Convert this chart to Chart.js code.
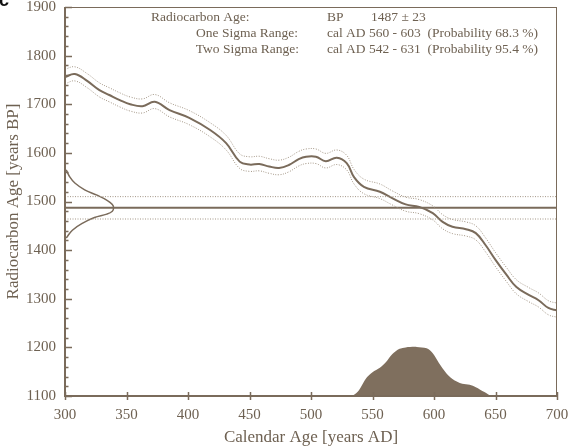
<!DOCTYPE html>
<html>
<head>
<meta charset="utf-8">
<script src="https://cdn.jsdelivr.net/npm/chart.js@4/dist/chart.umd.min.js"></script>
<style>
  html, body { margin: 0; padding: 0; background: #ffffff; }
  #wrap { width: 571px; height: 448px; position: relative; }
</style>
</head>
<body>
<div id="wrap"><canvas id="c" width="571" height="448"></canvas></div>
<script>
// ---- Data ----
const calYears = [300,308,318,328,336,345,353,363,373,385,401,418,431,442,450,458,466,474,482,490,496,504,512,521,529,535,543,556,566,577,588,599,607,615,626,634,642,650,659,667,677,685,693,700];
const calMid   = [1756,1762,1748,1729,1719,1708,1700,1696,1705,1688,1672,1647,1620,1582,1576,1577,1572,1569,1575,1587,1592,1592,1583,1590,1579,1550,1530,1520,1507,1494,1489,1476,1458,1448,1443,1435,1410,1380,1349,1324,1308,1297,1281,1276];
const calUpper = [1772,1777,1763,1744,1734,1723,1715,1711,1720,1703,1687,1662,1636,1598,1592,1593,1588,1585,1591,1603,1608,1608,1599,1606,1595,1566,1546,1536,1522,1509,1504,1491,1473,1463,1458,1450,1425,1395,1364,1339,1323,1312,1296,1291];
const calLower = [1742,1748,1734,1715,1705,1694,1686,1682,1691,1674,1658,1633,1606,1568,1562,1563,1558,1555,1561,1573,1578,1578,1569,1576,1565,1536,1516,1506,1493,1480,1475,1462,1444,1434,1429,1421,1396,1366,1335,1310,1294,1283,1267,1262];

const measuredLevels = [1510, 1487, 1464];   // upper sigma, measured age, lower sigma
const gaussBP   = [1565,1550,1538,1524,1513,1502,1494,1487,1480,1474,1467,1455,1441,1425];
const gaussYear = [301,304,308,316,326,334.5,338.5,339.5,338.5,334,324,314,306,301];

const probYears = [440,460,475,490,530,534,539,545,550,556,561,566,572,577,586,594,599,604,610,615,623,629,634,641,647,700];
const probBP    = [1100,1101.5,1101,1100,1100,1101,1112,1137,1149,1158,1170,1186,1197,1200,1201,1198,1188,1168,1147,1135,1125,1123,1118,1108,1100,1100];

const xTicks = [300,350,400,450,500,550,600,650,700];
const yMajor = [1100,1200,1300,1400,1500,1600,1700,1800,1900];

const infoLabels = ["Radiocarbon Age:", "One Sigma Range:", "Two Sigma Range:"];
const infoValues = ["BP", "cal AD 560 - 603  (Probability 68.3 %)", "cal AD 542 - 631  (Probability 95.4 %)"];
const infoExtra  = "1487 \u00b1 23";

// ---- Styling ----
const INK = '#7a6b5b';
const TXT = '#6e6152';
const DOT = '#a39686';
const FONT = '"Liberation Serif", "Times New Roman", serif';

const pts = (xs, ys) => xs.map((x, i) => ({x: x, y: ys[i]}));

const framePlugin = {
  id: 'frame',
  afterDatasetsDraw(chart) {
    const ctx = chart.ctx;
    const a = chart.chartArea;
    const xs = chart.scales.x, ys = chart.scales.y;
    ctx.save();
    ctx.strokeStyle = INK;
    // frame
    ctx.lineWidth = 1;
    ctx.beginPath();
    ctx.moveTo(a.left, a.top + 0.5); ctx.lineTo(a.right, a.top + 0.5);
    ctx.moveTo(a.right - 0.5, a.top); ctx.lineTo(a.right - 0.5, a.bottom);
    ctx.stroke();
    ctx.lineWidth = 2;
    ctx.beginPath();
    ctx.moveTo(a.left, a.top); ctx.lineTo(a.left, a.bottom + 1);
    ctx.moveTo(a.left - 1, a.bottom); ctx.lineTo(a.right, a.bottom);
    ctx.stroke();
    // y ticks (inward)
    ctx.lineWidth = 1.5;
    ys.ticks.forEach(t => {
      const py = Math.round(ys.getPixelForValue(t.value)) + 0.5;
      const major = yMajor.includes(t.value);
      ctx.beginPath();
      ctx.moveTo(a.left, py); ctx.lineTo(a.left + (major ? 7 : 3.5), py);
      ctx.stroke();
    });
    // x ticks (crossing)
    xs.ticks.forEach(t => {
      const px = Math.round(xs.getPixelForValue(t.value)) + 0.5;
      ctx.beginPath();
      ctx.moveTo(px, a.bottom - 4); ctx.lineTo(px, a.bottom + 4);
      ctx.stroke();
    });
    // info text
    ctx.fillStyle = TXT;
    ctx.font = '13.5px ' + FONT;
    ctx.textBaseline = 'middle';
    const rows = [17, 33, 49];
    ctx.textAlign = 'left';
    ctx.fillText(infoLabels[0], 151, rows[0]);
    ctx.textAlign = 'right';
    ctx.fillText(infoLabels[1], 298, rows[1]);
    ctx.fillText(infoLabels[2], 299, rows[2]);
    ctx.textAlign = 'left';
    ctx.fillText(infoValues[0], 327, rows[0]);
    ctx.fillText(infoExtra, 371, rows[0]);
    ctx.fillText(infoValues[1], 327, rows[1]);
    ctx.fillText(infoValues[2], 327, rows[2]);
    // cropped panel letter
    ctx.fillStyle = '#111';
    ctx.font = 'bold 18px "Liberation Sans", Arial, sans-serif';
    ctx.textBaseline = 'alphabetic';
    ctx.fillText('c', -1, 6);
    ctx.restore();
  }
};

new Chart(document.getElementById('c'), {
  type: 'line',
  data: {
    datasets: [
      { data: pts(probYears, probBP), borderWidth: 0, borderColor: 'rgba(0,0,0,0)', backgroundColor: '#7f6f5e', fill: 'start', pointRadius: 0, tension: 0.3 },
      { data: pts(calYears, calUpper), borderColor: DOT, borderWidth: 1, borderDash: [1, 1.5], pointRadius: 0, tension: 0.4, fill: false },
      { data: pts(calYears, calLower), borderColor: DOT, borderWidth: 1, borderDash: [1, 1.5], pointRadius: 0, tension: 0.4, fill: false },
      { data: [{x: 300, y: measuredLevels[0]}, {x: 700, y: measuredLevels[0]}], borderColor: DOT, borderWidth: 1, borderDash: [1, 1.5], pointRadius: 0, fill: false },
      { data: [{x: 300, y: measuredLevels[2]}, {x: 700, y: measuredLevels[2]}], borderColor: DOT, borderWidth: 1, borderDash: [1, 1.5], pointRadius: 0, fill: false },
      { data: [{x: 300, y: measuredLevels[1]}, {x: 700, y: measuredLevels[1]}], borderColor: INK, borderWidth: 2, pointRadius: 0, fill: false },
      { data: pts(calYears, calMid), borderColor: INK, borderWidth: 2, pointRadius: 0, tension: 0.4, fill: false },
      { data: pts(gaussYear, gaussBP), borderColor: INK, borderWidth: 1.5, pointRadius: 0, tension: 0.4, fill: false }
    ]
  },
  options: {
    responsive: false,
    animation: false,
    layout: { padding: { top: 7, right: 14, left: 0, bottom: 0 } },
    plugins: { legend: { display: false }, tooltip: { enabled: false } },
    scales: {
      x: {
        type: 'linear', min: 300, max: 700,
        afterBuildTicks: s => { s.ticks = xTicks.map(v => ({value: v})); },
        afterFit: s => { s.height = 52; s.paddingLeft = 0; s.paddingRight = 0; },
        grid: { display: false, drawTicks: false },
        border: { display: false },
        ticks: { color: TXT, font: { family: FONT, size: 15 }, padding: 10, maxRotation: 0, autoSkip: false },
        title: { display: true, text: 'Calendar Age [years AD]', color: TXT, font: { family: FONT, size: 17 }, padding: { top: 0, bottom: 0 } }
      },
      y: {
        type: 'linear', min: 1100, max: 1900,
        ticks: { stepSize: 20, autoSkip: false, color: TXT, font: { family: FONT, size: 15 }, padding: 9,
                 callback: v => (yMajor.includes(v) ? String(v) : '') },
        afterFit: s => { s.width = 65; s.paddingTop = 0; s.paddingBottom = 0; },
        grid: { display: false, drawTicks: false },
        border: { display: false },
        title: { display: true, text: 'Radiocarbon Age [years BP]', color: TXT, font: { family: FONT, size: 17 }, padding: { top: 3, bottom: 0 } }
      }
    }
  },
  plugins: [framePlugin]
});
</script>
</body>
</html>
